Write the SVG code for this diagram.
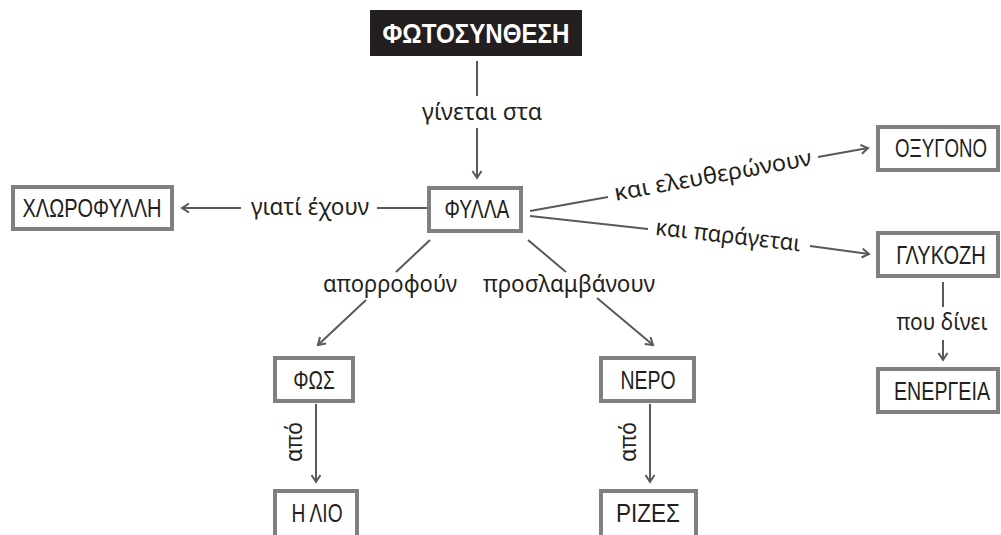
<svg xmlns="http://www.w3.org/2000/svg" width="1001" height="535" viewBox="0 0 1001 535">
<defs>
<style>
.box{fill:#fff;stroke:#808080;stroke-width:4}
.bt{font-family:"Liberation Sans",Arial,sans-serif;font-size:25px;fill:#231f20;text-anchor:middle}
.lb{font-family:"Noto Sans","Open Sans",sans-serif;font-size:23px;fill:#231f20;text-anchor:middle}
.ln{stroke:#58595b;stroke-width:2;fill:none}
</style>
<marker id="ah" markerUnits="userSpaceOnUse" markerWidth="12" markerHeight="12" refX="8" refY="5" orient="auto">
<path d="M1,0.5 L8,5 L1,9.5" fill="none" stroke="#58595b" stroke-width="2"/>
</marker>
</defs>
<rect width="1001" height="535" fill="#fff"/>
<g id="connectors">
<line class="ln" x1="477" y1="61" x2="477" y2="96"/>
<line class="ln" x1="477" y1="128" x2="477" y2="178" marker-end="url(#ah)"/>
<line class="ln" x1="427" y1="208" x2="377" y2="208"/>
<line class="ln" x1="241" y1="208" x2="182" y2="208" marker-end="url(#ah)"/>
<line class="ln" x1="530" y1="211" x2="608" y2="197"/>
<line class="ln" x1="818" y1="157" x2="868" y2="148" marker-end="url(#ah)"/>
<line class="ln" x1="530" y1="216" x2="648" y2="229"/>
<line class="ln" x1="810" y1="246" x2="869" y2="254" marker-end="url(#ah)"/>
<line class="ln" x1="430" y1="240" x2="396" y2="272"/>
<line class="ln" x1="366" y1="300" x2="318" y2="345" marker-end="url(#ah)"/>
<line class="ln" x1="528" y1="240" x2="566" y2="272"/>
<line class="ln" x1="597" y1="298" x2="653" y2="345" marker-end="url(#ah)"/>
<line class="ln" x1="316" y1="404" x2="316" y2="482" marker-end="url(#ah)"/>
<line class="ln" x1="650" y1="404" x2="650" y2="482" marker-end="url(#ah)"/>
<line class="ln" x1="943" y1="282" x2="943" y2="307"/>
<line class="ln" x1="943" y1="340" x2="943" y2="360" marker-end="url(#ah)"/>
<text class="lb" x="482" y="120" textLength="120" lengthAdjust="spacingAndGlyphs">γίνεται στα</text>
<text class="lb" x="310" y="215" textLength="118" lengthAdjust="spacingAndGlyphs">γιατί έχουν</text>
<text class="lb" x="390" y="292" textLength="134" lengthAdjust="spacingAndGlyphs">απορροφούν</text>
<text class="lb" x="569" y="292" textLength="172" lengthAdjust="spacingAndGlyphs">προσλαμβάνουν</text>
<text class="lb" transform="translate(302,442) rotate(-90)" x="0" y="0" textLength="40" lengthAdjust="spacingAndGlyphs">από</text>
<text class="lb" transform="translate(636,442) rotate(-90)" x="0" y="0" textLength="40" lengthAdjust="spacingAndGlyphs">από</text>
<text class="lb" x="942" y="330" textLength="91" lengthAdjust="spacingAndGlyphs">που δίνει</text>
<text class="lb" transform="translate(713,176) rotate(-10.3)" x="0" y="7" textLength="200" lengthAdjust="spacingAndGlyphs">και ελευθερώνουν</text>
<text class="lb" transform="translate(728,236) rotate(6.5)" x="0" y="7" textLength="146" lengthAdjust="spacingAndGlyphs">και παράγεται</text>
</g>
<g id="n-fotosynthesi">
<rect x="370" y="10" width="212" height="46" fill="#231f20"/>
<text transform="translate(476,43) scale(0.82,1)" x="0" y="0" font-family="Liberation Sans,Arial,sans-serif" font-size="27" font-weight="bold" fill="#fff" text-anchor="middle" textLength="228" lengthAdjust="spacingAndGlyphs">ΦΩΤΟΣΥΝΘΕΣΗ</text>
</g>
<g id="n-fylla">
<rect class="box" x="429" y="188" width="92" height="43"/>
<text class="bt" transform="translate(477,218) scale(0.8,1)" x="0" y="0" textLength="81" lengthAdjust="spacingAndGlyphs">ΦΥΛΛΑ</text>
</g>
<g id="n-xlorofylli">
<rect class="box" x="13" y="187" width="159" height="42"/>
<text class="bt" transform="translate(92,217) scale(0.8,1)" x="0" y="0" textLength="174" lengthAdjust="spacingAndGlyphs">ΧΛΩΡΟΦΥΛΛΗ</text>
</g>
<g id="n-oxygono">
<rect class="box" x="878" y="127" width="120" height="43"/>
<text class="bt" transform="translate(941,157) scale(0.8,1)" x="0" y="0" textLength="115" lengthAdjust="spacingAndGlyphs">ΟΞΥΓΟΝΟ</text>
</g>
<g id="n-glykozi">
<rect class="box" x="878" y="233" width="120" height="43"/>
<text class="bt" transform="translate(941,264) scale(0.8,1)" x="0" y="0" textLength="112" lengthAdjust="spacingAndGlyphs">ΓΛΥΚΟΖΗ</text>
</g>
<g id="n-energeia">
<rect class="box" x="878" y="369" width="120" height="43"/>
<text class="bt" transform="translate(942,400) scale(0.8,1)" x="0" y="0" textLength="120" lengthAdjust="spacingAndGlyphs">ΕΝΕΡΓΕΙΑ</text>
</g>
<g id="n-fos">
<rect class="box" x="275" y="358" width="78" height="43"/>
<text class="bt" transform="translate(314,389) scale(0.8,1)" x="0" y="0" textLength="52" lengthAdjust="spacingAndGlyphs">ΦΩΣ</text>
</g>
<g id="n-nero">
<rect class="box" x="601" y="358" width="93" height="43"/>
<text class="bt" transform="translate(648,389) scale(0.8,1)" x="0" y="0" textLength="69" lengthAdjust="spacingAndGlyphs">ΝΕΡΟ</text>
</g>
<g id="n-ilio">
<rect class="box" x="275" y="491" width="82" height="50"/>
<text class="bt" transform="translate(317,522) scale(0.8,1)" x="0" y="0" textLength="64" lengthAdjust="spacingAndGlyphs">Η ΛΙΟ</text>
</g>
<g id="n-rizes">
<rect class="box" x="601" y="491" width="95" height="50"/>
<text class="bt" transform="translate(648,522) scale(0.8,1)" x="0" y="0" textLength="80" lengthAdjust="spacingAndGlyphs">ΡΙΖΕΣ</text>
</g>
</svg>
